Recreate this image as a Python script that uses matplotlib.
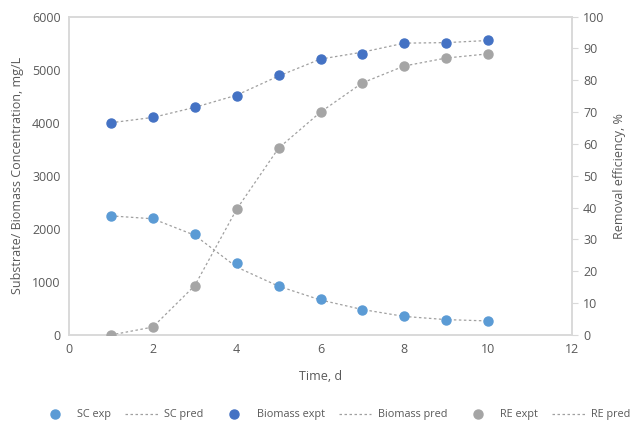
import matplotlib.pyplot as plt
from matplotlib.lines import Line2D

plt.rcParams['font.family'] = ['Open Sans', 'DejaVu Sans']

# data
time = [1, 2, 3, 4, 5, 6, 7, 8, 9, 10]
sc_exp = [2245, 2200, 1900, 1350, 920, 670, 470, 350, 290, 265]
sc_pred = [2245, 2190, 1880, 1280, 920, 660, 480, 350, 290, 265]
biomass_exp = [4000, 4100, 4300, 4500, 4900, 5200, 5300, 5500, 5500, 5550]
biomass_pred = [4000, 4100, 4290, 4520, 4880, 5200, 5330, 5500, 5510, 5550]
re_exp = [0, 2.5, 15.5, 39.5, 58.7, 70, 79.2, 84.5, 87, 88.3]
re_pred = [0, 2.5, 15.5, 39.5, 58.7, 70, 79.2, 84.5, 87, 88.3]

c_sc = '#5B9BD5'
c_bio = '#4472C4'
c_re = '#A5A5A5'
c_line = '#A0A0A0'
c_txt = '#595959'
c_ax = '#D9D9D9'

fig = plt.figure(figsize=(6.37, 4.26), dpi=100)
ax = fig.add_axes([0.1083, 0.2136, 0.7897, 0.7474])
ax2 = ax.twinx()

ls = (0, (2, 2))
ax.plot(time, sc_pred, linestyle=ls, color=c_line, lw=0.9, zorder=2)
ax.plot(time, biomass_pred, linestyle=ls, color=c_line, lw=0.9, zorder=2)
ax2.plot(time, re_pred, linestyle=ls, color=c_line, lw=0.9, zorder=2)
ax.plot(time, sc_exp, 'o', color=c_sc, ms=6.5, zorder=3)
ax.plot(time, biomass_exp, 'o', color=c_bio, ms=6.5, zorder=3)
ax2.plot(time, re_exp, 'o', color=c_re, ms=6.5, zorder=3)

ax.set_xlim(0, 12)
ax.set_ylim(0, 6000)
ax2.set_ylim(0, 100)
ax.set_xticks(range(0, 13, 2))
ax.set_yticks(range(0, 6001, 1000))
ax2.set_yticks(range(0, 101, 10))

for a in (ax, ax2):
    for s in a.spines.values():
        s.set_color(c_ax)
        s.set_linewidth(1.2)
ax.tick_params(axis='both', length=0, colors=c_txt, labelsize=9, pad=6)
ax2.tick_params(axis='y', length=4, colors=c_txt, labelsize=9, pad=4)
ax2.tick_params(axis='y', color=c_ax)

ax.set_xlabel('Time, d', color=c_txt, fontsize=9, labelpad=10)
ax.set_ylabel('Substrate/ Biomass Concentration, mg/L', color=c_txt, fontsize=9, labelpad=6)
ax2.set_ylabel('Removal efficiency, %', color=c_txt, fontsize=9, labelpad=6)

handles = [
    Line2D([], [], marker='o', color=c_sc, ls='none', ms=6.5),
    Line2D([], [], color=c_line, ls=ls, lw=0.9),
    Line2D([], [], marker='o', color=c_bio, ls='none', ms=6.5),
    Line2D([], [], color=c_line, ls=ls, lw=0.9),
    Line2D([], [], marker='o', color=c_re, ls='none', ms=6.5),
    Line2D([], [], color=c_line, ls=ls, lw=0.9),
]
labels = ['SC exp', 'SC pred', 'Biomass expt', 'Biomass pred', 'RE expt', 'RE pred']
leg = fig.legend(handles, labels, loc='center', bbox_to_anchor=(0.525, 0.026), ncol=6,
                 frameon=False, fontsize=7.8, handlelength=3.0, columnspacing=1.3,
                 handletextpad=0.6)
for t in leg.get_texts():
    t.set_color(c_txt)

fig.savefig('out.png', dpi=100)
